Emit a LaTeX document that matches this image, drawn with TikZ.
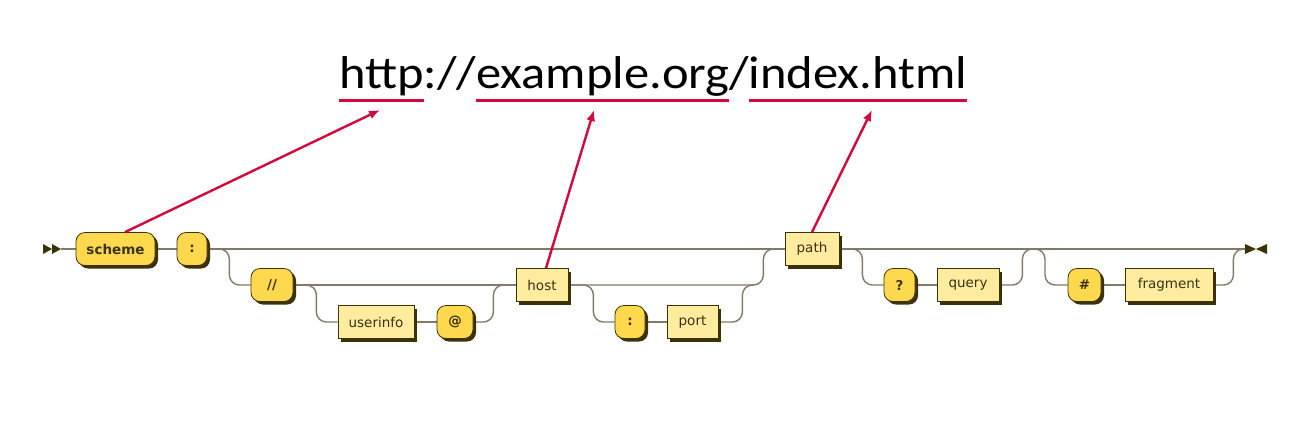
\documentclass[tikz,border=0pt]{standalone}
\usepackage{fontspec}
\setmainfont{DejaVu Sans}
\newfontfamily\titlefont{Carlito}
\usetikzlibrary{shadows,arrows.meta,backgrounds}
\definecolor{railred}{RGB}{212,8,58}
\definecolor{termfill}{RGB}{255,217,77}
\definecolor{ntfill}{RGB}{255,236,158}
\definecolor{boxline}{RGB}{60,50,10}
\definecolor{shadowcol}{RGB}{60,50,10}
\definecolor{railcol}{RGB}{130,122,102}
\definecolor{textcol}{RGB}{58,49,22}
\newcommand{\tw}[1]{\scalebox{1.098}[1]{#1}}
\begin{document}
\begin{tikzpicture}[x=1pt,y=-1pt,
 box/.style={draw=boxline, line width=0.8pt, minimum height=33pt, inner sep=0pt, text=textcol,
   font=\fontsize{13.5}{16}\selectfont,
   general shadow={fill=shadowcol, shadow xshift=3pt, shadow yshift=-3pt}},
 term/.style={box, fill=termfill, rounded corners=9pt, font=\fontsize{13.5}{16}\selectfont\bfseries},
 nterm/.style={box, fill=ntfill},
 rail/.style={draw=railcol, line width=1.4pt, rounded corners=10pt},
 redarrow/.style={draw=railred, line width=2.4pt, -{Latex[length=11pt,width=9pt]}},
 uline/.style={draw=railred, line width=3pt},
 ttl/.style={inner sep=0pt, outer sep=0pt, text=black, anchor=base west, font=\titlefont\fontsize{46}{52}\selectfont},
 tip/.style={fill=boxline, draw=none}
]
\useasboundingbox (0,0) rectangle (1300,424);

% title
\node[ttl] (t1) at (339,88) {\tw{http}};
\node[ttl] (t2) at (t1.base east) {\tw{://}};
\node[ttl] (t3) at (t2.base east) {\tw{example.org}};
\node[ttl] (t4) at (t3.base east) {\tw{/}};
\node[ttl] (t5) at (t4.base east) {\tw{index.html}};
\foreach \n in {t1,t3,t5}
  \draw[uline] ([yshift=-12pt]\n.base west) -- ([yshift=-12pt]\n.base east);

% nodes
\node[term, minimum width=79pt] (scheme) at (115.5,249) {scheme};
\node[term, minimum width=30pt] (colon1) at (192,249) {:};
\node[term, minimum width=42pt] (slashes) at (272,285) {//};
\node[nterm, minimum width=76pt] (userinfo) at (376,322) {userinfo};
\node[term, minimum width=36pt] (at) at (455,322) {@};
\node[nterm, minimum width=52pt] (host) at (542,285) {host};
\node[term, minimum width=30pt] (colon2) at (630,322) {:};
\node[nterm, minimum width=51pt] (port) at (692.5,322) {port};
\node[nterm, minimum width=54pt] (path) at (812,249) {path};
\node[term, minimum width=31pt] (qmark) at (899.5,285) {?};
\node[nterm, minimum width=62pt] (query) at (968,285) {query};
\node[term, minimum width=33pt] (hash) at (1084.5,285) {\#};
\node[nterm, minimum width=88pt] (fragment) at (1169,285) {fragment};

\coordinate (st) at (61,249);
\coordinate (en) at (1245,249);
\coordinate (hb) at (1033,249);

% start / end symbols
\fill[tip] (43,244) -- (52,249) -- (43,254) -- cycle;
\fill[tip] (52,244) -- (61,249) -- (52,254) -- cycle;
\fill[tip] (1245,244) -- (1256,249) -- (1245,254) -- cycle;
\fill[tip] (1267,244) -- (1256,249) -- (1267,254) -- cycle;

% rails
\begin{pgfonlayer}{background}
\draw[rail] (st) -- (scheme.west);
\draw[rail] (scheme.east) -- (colon1.west);
\draw[rail] (colon1.east) -- (path.west);
\draw[rail] (colon1.east) -- ++(22,0) |- (slashes.west);
\draw[rail] (slashes.east) -- (host.west);
\draw[rail] (slashes.east) -- ++(23,0) |- (userinfo.west);
\draw[rail] (userinfo.east) -- (at.west);
\draw[rail] (at.east) -- ++(20,0) |- (host.west);
\draw[rail] (host.east) -- ++(195,0) |- (path.west);
\draw[rail] (host.east) -- ++(25,0) |- (colon2.west);
\draw[rail] (colon2.east) -- (port.west);
\draw[rail] (port.east) -- ++(24,0) -- ++(0,-37) -- ++(12,0);
\draw[rail] (path.east) -- (en);
\draw[rail] (path.east) -- ++(23,0) |- (qmark.west);
\draw[rail] (qmark.east) -- (query.west);
\draw[rail] (query.east) -- ++(23,0) -- ++(0,-36) -- ++(12,0);
\draw[rail] (hb) -- ++(12,0) |- (hash.west);
\draw[rail] (hash.east) -- (fragment.west);
\draw[rail] (fragment.east) -- ++(20,0) -- ++(0,-36) -- ++(12,0);
\end{pgfonlayer}

% red arrows
\coordinate (a1) at (380,110);
\coordinate (a2) at (594,110);
\coordinate (a3) at (872,110);
\draw[redarrow] ([xshift=9.5pt]scheme.north) -- (a1);
\draw[redarrow] ([xshift=4pt]host.north) -- (a2);
\draw[redarrow] (path.north) -- (a3);
\end{tikzpicture}
\end{document}
